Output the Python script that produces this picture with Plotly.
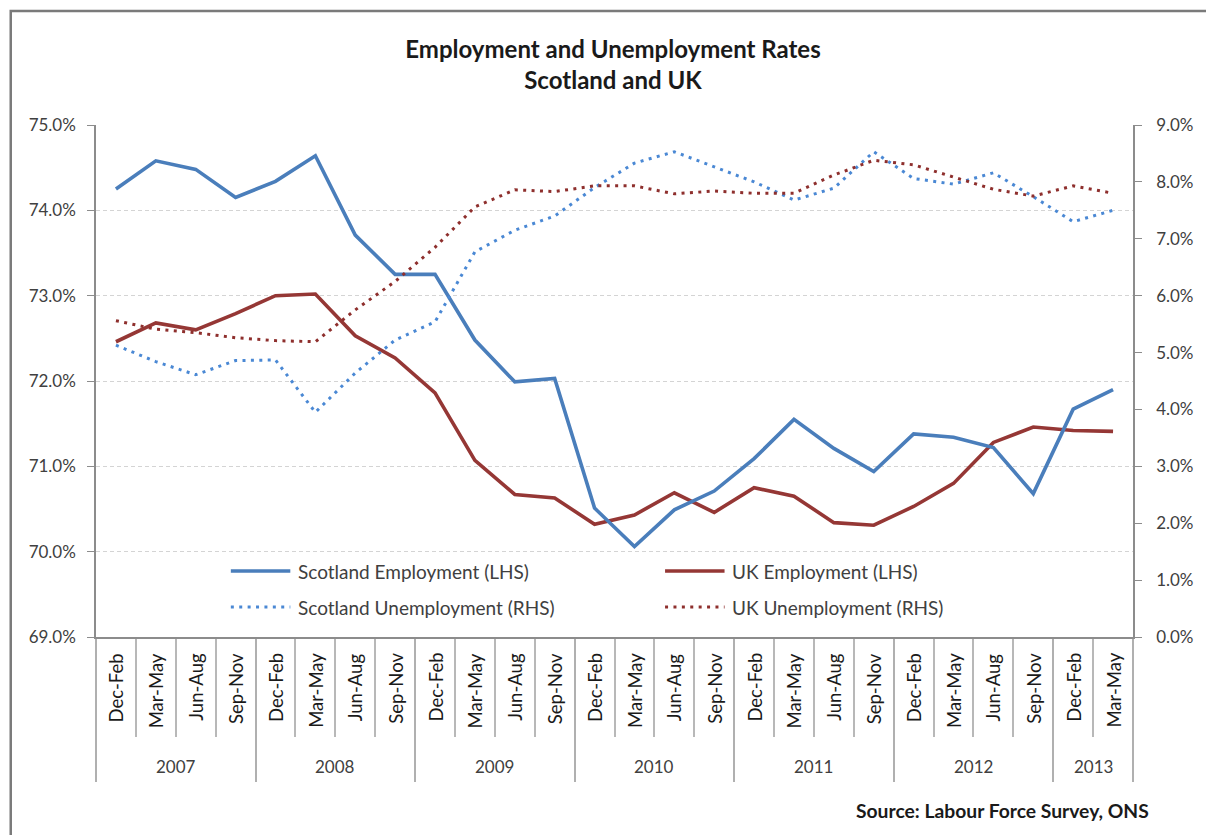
import plotly.graph_objects as go

# ---- data -------------------------------------------------------------
years = ["2007", "2008", "2009", "2010", "2011", "2012", "2013"]
periods_per_year = [4, 4, 4, 4, 4, 4, 2]
period_names = ["Dec-Feb", "Mar-May", "Jun-Aug", "Sep-Nov"]

scotland_employment = [74.25, 74.58, 74.48, 74.15, 74.34, 74.64, 73.71, 73.25, 73.25,
                       72.48, 71.99, 72.03, 70.51, 70.06, 70.49, 70.71, 71.09, 71.55,
                       71.21, 70.94, 71.38, 71.34, 71.22, 70.68, 71.67, 71.90]
uk_employment = [72.46, 72.68, 72.60, 72.79, 73.00, 73.02, 72.53, 72.27, 71.86,
                 71.07, 70.67, 70.63, 70.32, 70.43, 70.69, 70.46, 70.75, 70.65,
                 70.34, 70.31, 70.53, 70.80, 71.28, 71.46, 71.42, 71.41]
scotland_unemployment = [5.13, 4.84, 4.61, 4.86, 4.87, 3.95, 4.64, 5.22, 5.54,
                         6.77, 7.15, 7.40, 7.90, 8.33, 8.53, 8.27, 8.00, 7.68,
                         7.89, 8.53, 8.06, 7.96, 8.16, 7.74, 7.30, 7.50]
uk_unemployment = [5.56, 5.41, 5.35, 5.26, 5.21, 5.19, 5.75, 6.25, 6.85,
                   7.56, 7.86, 7.83, 7.93, 7.93, 7.79, 7.84, 7.80, 7.80,
                   8.12, 8.38, 8.30, 8.09, 7.87, 7.75, 7.93, 7.80]

# ---- derived category structure ----------------------------------------
period_labels = []
year_of_point = []
for yr, n in zip(years, periods_per_year):
    period_labels += period_names[:n]
    year_of_point += [yr] * n
x_idx = list(range(len(period_labels)))

year_bounds = [-0.5]
for n in periods_per_year:
    year_bounds.append(year_bounds[-1] + n)
year_centers = [(a + b) / 2 for a, b in zip(year_bounds[:-1], year_bounds[1:])]

# ---- geometry helpers (page pixels -> paper coords) --------------------
W, H = 1206, 835
L, R, T, B = 96, 1142, 125, 637


def px(x):
    return (x - L) / (R - L)


def py(y):
    return (B - y) / (B - T)


FONT = "Lato, 'Open Sans', sans-serif"
TXT = "#404040"
AXC = "#8c8c8c"

BLUE = "#4A7EBB"
BLUE_DOT = "#4A88D4"
RED = "#953735"
RED_DOT = "#8E2F2D"
DOT = "3px,5.4px"

fig = go.Figure()

fig.add_trace(go.Scatter(x=x_idx, y=scotland_unemployment, yaxis="y2", mode="lines",
                         name="Scotland Unemployment (RHS)",
                         line=dict(color=BLUE_DOT, width=3, dash=DOT)))
fig.add_trace(go.Scatter(x=x_idx, y=uk_unemployment, yaxis="y2", mode="lines",
                         name="UK Unemployment (RHS)",
                         line=dict(color=RED_DOT, width=3, dash=DOT)))
fig.add_trace(go.Scatter(x=x_idx, y=uk_employment, mode="lines",
                         name="UK Employment (LHS)",
                         line=dict(color=RED, width=3.6)))
fig.add_trace(go.Scatter(x=x_idx, y=scotland_employment, mode="lines",
                         name="Scotland Employment (LHS)",
                         line=dict(color=BLUE, width=3.6)))

fig.update_layout(
    width=W, height=H,
    margin=dict(l=L, r=W - R, t=T, b=H - B),
    paper_bgcolor="white", plot_bgcolor="white",
    showlegend=False,
    font=dict(family=FONT, color=TXT, size=17),
    title=dict(text="<b>Employment and Unemployment Rates<br>Scotland and UK</b>",
               xref="container", yref="container",
               x=613 / W, y=1 - 58 / H, xanchor="center", yanchor="middle",
               font=dict(family=FONT, size=24, color="#1a1a1a")),
    xaxis=dict(range=[-0.5, len(x_idx) - 0.5], showgrid=False, zeroline=False,
               showticklabels=False, showline=True, linecolor=AXC, linewidth=1.5,
               tickmode="array", tickvals=year_bounds, ticks="outside",
               ticklen=143, tickcolor="#b0b0b0", tickwidth=1.5,
               minor=dict(tick0=-0.5, dtick=1, ticks="outside", ticklen=98,
                          tickcolor="#b8b8b8", tickwidth=1.5, showgrid=False)),
    yaxis=dict(range=[69, 75], dtick=1, tickformat=".1f", ticksuffix="%",
               showgrid=True, gridcolor="#d4d4d4", griddash="4px,3px", gridwidth=1,
               zeroline=False, showline=True, linecolor=AXC, linewidth=1.5,
               ticks="outside", ticklen=7, tickcolor=AXC, ticklabelstandoff=8,
               tickfont=dict(size=17, color=TXT)),
    yaxis2=dict(range=[0, 9], dtick=1, tickformat=".1f", ticksuffix="%",
                overlaying="y", side="right", showgrid=False, zeroline=False,
                showline=True, linecolor=AXC, linewidth=1.5,
                ticks="outside", ticklen=7, tickcolor=AXC, ticklabelstandoff=11,
                tickfont=dict(size=17, color=TXT)),
)

annotations = []
# period labels, rotated, hanging under the axis
for i, lab in zip(x_idx, period_labels):
    annotations.append(dict(x=i, xref="x", y=py(651), yref="paper", text=lab,
                            textangle=-90, xanchor="center", yanchor="top",
                            showarrow=False, font=dict(size=18.5, color="#1a1a1a")))
# year labels
for c, yr in zip(year_centers, years):
    annotations.append(dict(x=c, xref="x", y=py(766), yref="paper", text=yr,
                            xanchor="center", yanchor="middle", showarrow=False,
                            font=dict(size=17, color=TXT)))

# legend block inside the plot area
legend_items = [
    ("Scotland Employment (LHS)", BLUE, None, 232, 571),
    ("UK Employment (LHS)", RED, None, 670, 571),
    ("Scotland Unemployment (RHS)", BLUE_DOT, DOT, 232, 607),
    ("UK Unemployment (RHS)", RED_DOT, DOT, 670, 607),
]
shapes = []
for name, col, dash, lx, ly in legend_items:
    shapes.append(dict(type="line", xref="paper", yref="paper",
                       x0=px(lx), x1=px(lx + 60), y0=py(ly), y1=py(ly),
                       line=dict(color=col, width=3.6 if dash is None else 3,
                                 dash=dash if dash else "solid")))
    annotations.append(dict(x=px(lx + 66), y=py(ly), xref="paper", yref="paper",
                            text=name, xanchor="left", yanchor="middle",
                            showarrow=False, font=dict(size=19, color=TXT)))

annotations.append(dict(x=px(1160), y=py(810), xref="paper", yref="paper",
                        text="<b>Source: Labour Force Survey, ONS</b>",
                        xanchor="right", yanchor="middle", showarrow=False,
                        font=dict(size=19.3, color="#1a1a1a")))

# outer chart frame
shapes.append(dict(type="rect", xref="paper", yref="paper",
                   x0=px(10), x1=px(1240), y0=py(11), y1=py(870),
                   line=dict(color="#7a7a7a", width=2.5), fillcolor="rgba(0,0,0,0)",
                   layer="below"))

fig.update_layout(annotations=annotations, shapes=shapes)

fig.write_html("out.html")
